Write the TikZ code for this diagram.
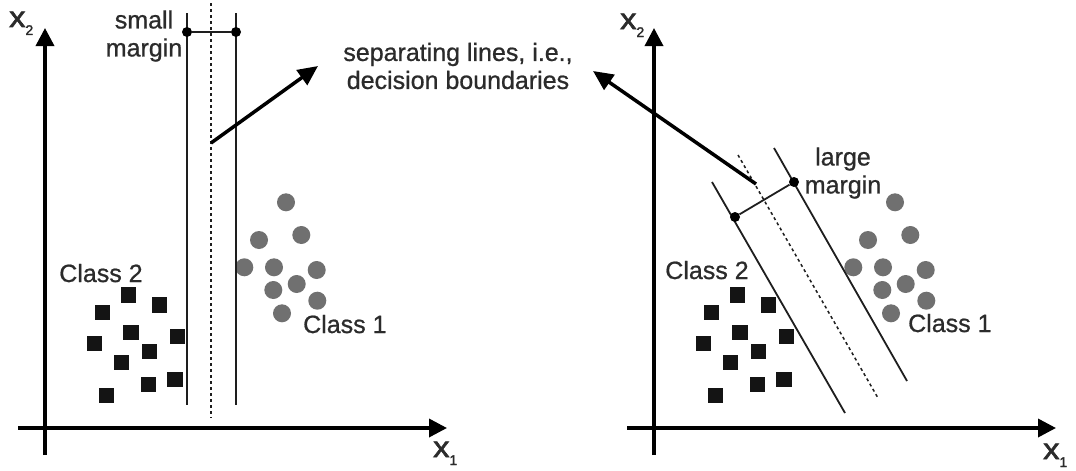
\documentclass[tikz,border=0pt]{standalone}
\usepackage{fontspec}
\setmainfont{Liberation Sans}[RawFeature={embolden=0.8}]
\newfontfamily\axfont{Liberation Sans}[RawFeature={embolden=2}]
\usetikzlibrary{arrows.meta}
\definecolor{txt}{HTML}{2B2B2B}
\definecolor{circgray}{HTML}{707070}
\definecolor{sqblack}{HTML}{141414}
\definecolor{linegray}{HTML}{1E1E1E}
\tikzset{
  axis/.style={line width=3.5pt, black, -{Triangle[length=18pt,width=18pt]}},
  sepline/.style={line width=1.8pt, linegray},
  midline/.style={line width=1.5pt, linegray, dash pattern=on 3pt off 3pt},
  callout/.style={line width=3.5pt, black, -{Triangle[length=20pt,width=18pt]}},
  sq/.style={rectangle, fill=sqblack, minimum size=15.5pt, inner sep=0pt},
  circ/.style={circle, fill=circgray, minimum size=18pt, inner sep=0pt},
  marginpt/.style={circle, fill=black, minimum size=10pt, inner sep=0pt},
  lbl/.style={text=txt, inner sep=0pt, font=\fontsize{25}{28}\selectfont},
  axlbl/.style={text=txt, inner sep=0pt, font=\axfont\fontsize{29}{30}\selectfont},
}
\newcommand{\subnum}[1]{\raisebox{-8pt}{\fontsize{14}{14}\selectfont #1}}
\newcommand{\axx}{\scalebox{1.12}[1]{x}}
\begin{document}
\begin{tikzpicture}[x=1pt,y=-1pt]
\fill[white] (0,0) rectangle (1076,471);
\useasboundingbox (0,0) rectangle (1076,471);

% ---------------- axes ----------------
\foreach \s/\n in {0/L,609/R}{
  \coordinate (yb\n) at (45+\s,455);
  \coordinate (yt\n) at (45+\s,28);
  \coordinate (xl\n) at (18+\s,428);
  \coordinate (xr\n) at (447+\s,428);
  \draw[axis] (yb\n) -- (yt\n);
  \draw[axis] (xl\n) -- (xr\n);
}
\node[axlbl, anchor=base west] (x2L) at (9,27) {\axx\subnum{2}};
\node[axlbl, anchor=base west] (x1L) at (433,457) {\axx\subnum{1}};
\node[axlbl, anchor=base west] (x2R) at (620,29) {\axx\subnum{2}};
\node[axlbl, anchor=base west] (x1R) at (1043,459) {\axx\subnum{1}};

% ---------------- class points ----------------
\foreach \s/\n in {0/L,609/R}{
  \foreach \x/\y [count=\i] in {128.3/295, 159.3/305, 102.3/312.7, 131/332.3, 94.3/343.3,
      177.3/336.7, 149.3/351.7, 121.7/362.7, 148.3/384.7, 175/379.3, 106.7/395.7}
    \node[sq] (sq\n\i) at (\x+\s,\y) {};
  \foreach \x/\y [count=\i] in {286/202.3, 259/240, 301.3/235, 244.3/267.3, 274/267.3,
      316.7/270, 273.3/290, 296.7/284, 317.3/300.7, 282/313.3}
    \node[circ] (ci\n\i) at (\x+\s,\y) {};
}

% ---------------- left panel: small margin ----------------
\coordinate (la) at (187,13);  \coordinate (lb) at (187,405);
\coordinate (ra) at (236,13);  \coordinate (rb) at (236,405);
\coordinate (ma) at (211,3);   \coordinate (mb) at (211,418);
\draw[sepline] (la) -- (lb);
\draw[sepline] (ra) -- (rb);
\draw[midline] (ma) -- (mb);
\node[marginpt] (mpL1) at (187,32) {};
\node[marginpt] (mpL2) at (236,32) {};
\draw[sepline] (mpL1) -- (mpL2);
\node[lbl, align=center] (smallm) at (144,36) {small\\margin};

% ---------------- right panel: large margin ----------------
\coordinate (sa) at (712,182); \coordinate (sb) at (845,413);
\coordinate (ta) at (774,148); \coordinate (tb) at (907,381);
\coordinate (da) at (738,155); \coordinate (db) at (878,398);
\draw[sepline] (sa) -- (sb);
\draw[sepline] (ta) -- (tb);
\draw[midline] (da) -- (db);
\node[marginpt] (mpR1) at (735,217) {};
\node[marginpt] (mpR2) at (794,182) {};
\draw[sepline] (mpR1) -- (mpR2);
\node[lbl, align=center] (largem) at (843,173) {large\\margin};

% ---------------- callout ----------------
\node[lbl, align=center] (seplbl) at (458,66) {separating lines, i.e.,\\decision boundaries};
\coordinate (cL0) at (211,143); \coordinate (cL1) at (318,66);
\coordinate (cR0) at (756,184); \coordinate (cR1) at (593,71);
\draw[callout] (cL0) -- (cL1);
\draw[callout] (cR0) -- (cR1);

% ---------------- class labels ----------------
\node[lbl, anchor=base] (c2L) at (101,282) {Class 2};
\node[lbl, anchor=base west] (c1L) at (303,333) {Class 1};
\node[lbl, anchor=base] (c2R) at (707,279) {Class 2};
\node[lbl, anchor=base west] (c1R) at (908,332) {Class 1};
\end{tikzpicture}
\end{document}
